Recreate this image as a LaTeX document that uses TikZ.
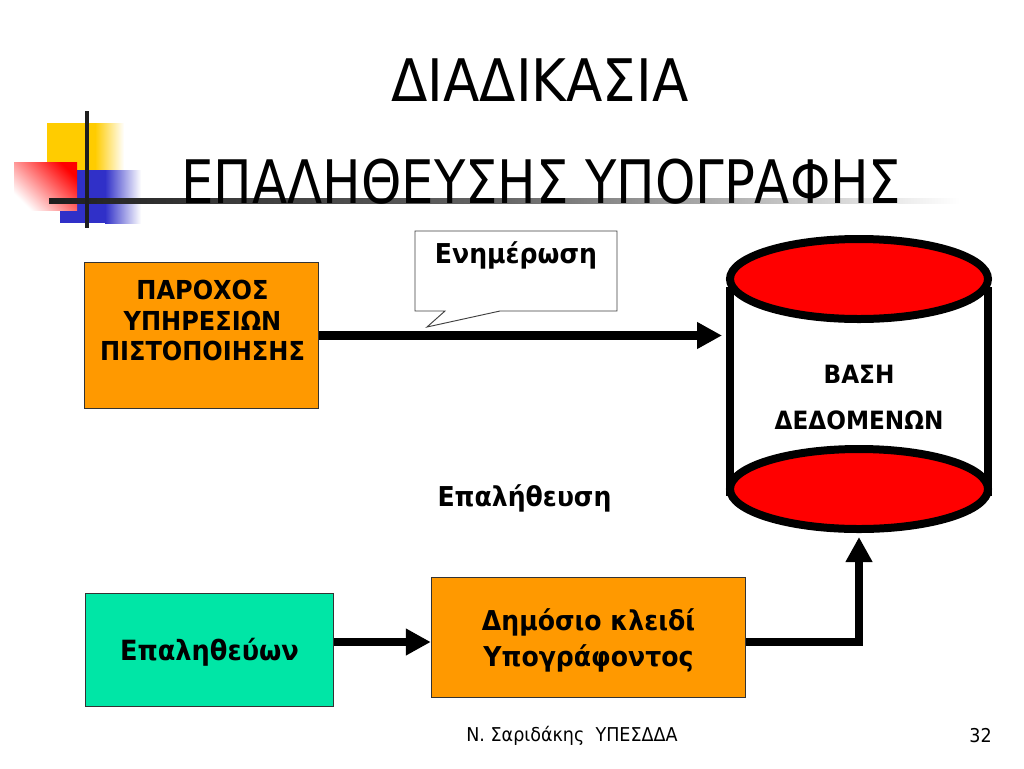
\documentclass[tikz,border=0pt]{standalone}
\usepackage{fontspec}
\setmainfont[FakeStretch=0.92]{DejaVu Sans}
\newfontfamily\titleone[FakeStretch=0.905]{DejaVu Sans}
\newfontfamily\titletwo[FakeStretch=0.855]{DejaVu Sans}
\usetikzlibrary{arrows.meta,shapes.geometric}
\definecolor{orangebox}{HTML}{FF9900}
\definecolor{greenbox}{HTML}{00E6A6}
\definecolor{barblack}{HTML}{1E1E1E}
\definecolor{ornyellow}{HTML}{FFCC00}
\definecolor{ornblue}{HTML}{3030C8}
\tikzset{
  x=0.75pt,y=-0.75pt,
  flowbox/.style={draw=black!80,line width=0.6pt,inner sep=0pt},
  heavy/.style={line width=6.6pt,-{Triangle[length=18.75pt,width=19pt]}},
  capdisc/.style={ellipse,draw=black,fill=red,line width=6pt,minimum width=193.5pt,minimum height=60pt,inner sep=0pt},
  titlea/.style={font=\titleone\fontsize{44}{48}\selectfont,inner sep=0pt},
  titleb/.style={font=\titletwo\fontsize{45}{48}\selectfont,inner sep=0pt},
  foot/.style={font=\fontsize{14.3}{16}\selectfont,inner sep=0pt},
  boldlabel/.style={font=\bfseries\fontsize{20.5}{27}\selectfont,inner sep=0pt,align=center},
  provlabel/.style={font=\bfseries\fontsize{19.6}{23}\selectfont,inner sep=0pt,align=center},
  dblabel/.style={font=\bfseries\fontsize{18.9}{20}\selectfont,inner sep=0pt}
}
\begin{document}
\begin{tikzpicture}
\useasboundingbox[fill=white] (0,0) rectangle (1024,768);
% bullet ornament
\fill[ornyellow] (47,123) rectangle (95,170);
\shade[left color=ornyellow,right color=white] (95,123) rectangle (124,170);
\fill[ornblue] (60,170) rectangle (105,223);
\shade[left color=ornblue,right color=white] (105,170) rectangle (141,223);
\shade[shading=axis,top color=red,bottom color=white,shading angle=-45] (14,162) rectangle (77,210);
\shade[left color=barblack,right color=white,middle color=black!60] (49,198.5) rectangle (960,203.5);
\fill[barblack] (85,111) rectangle (89,228);
% title
\node[titlea] (t1) at (540,80) {ΔΙΑΔΙΚΑΣΙΑ};
\node[titleb] (t2) at (541.5,182) {ΕΠΑΛΗΘΕΥΣΗΣ ΥΠΟΓΡΑΦΗΣ};
% callout
\draw[black!75,line width=0.7pt,fill=white] (415,231) -- (617,231) -- (617,311) -- (500,311) -- (427,327) -- (445,311) -- (415,311) -- cycle;
\node[boldlabel] (upd) at (516,255.5) {Ενημέρωση};
% boxes
\node[flowbox,fill=orangebox,minimum width=175.5pt,minimum height=109pt] (prov) at (201.5,335.5) {};
\node[provlabel] (provt) at (202.5,320.5) {ΠΑΡΟΧΟΣ\\ ΥΠΗΡΕΣΙΩΝ\\ ΠΙΣΤΟΠΟΙΗΣΗΣ};
\node[flowbox,fill=greenbox,minimum width=186.5pt,minimum height=84.5pt] (ver) at (209.5,650) {};
\node[boldlabel,font=\bfseries\fontsize{20.9}{27}\selectfont] (vert) at (209.5,652) {Επαληθεύων};
\node[flowbox,fill=orangebox,minimum width=236pt,minimum height=90.5pt] (key) at (588.5,637.5) {};
\node[boldlabel] (keyt) at (588.5,640) {Δημόσιο κλειδί\\ Υπογράφοντος};
% database
\coordinate (dbin) at (722,335.5);
\coordinate (sideTL) at (730,287);
\coordinate (sideBL) at (730,496);
\coordinate (sideTR) at (988,287);
\coordinate (sideBR) at (988,496);
\draw[line width=6pt] (sideTL) -- (sideBL);
\draw[line width=6pt] (sideTR) -- (sideBR);
\node[capdisc] (dbtop) at (859,279) {};
\node[capdisc] (dbbot) at (859,489) {};
\node[dblabel] (db1) at (859,374) {ΒΑΣΗ};
\node[dblabel] (db2) at (859,420) {ΔΕΔΟΜΕΝΩΝ};
\node[boldlabel] (chk) at (524.5,498) {Επαλήθευση};
% connectors
\coordinate (up) at (859,537);
\draw[heavy] (prov.east) -- (dbin);
\draw[heavy] (key.east |- 0,642) coordinate (keyout) (ver.east |- keyout) -- (key.west |- keyout);
\draw[heavy] (keyout) -| (up);
% footer
\node[foot] (f1) at (572,735.5) {Ν. Σαριδάκης\ \ ΥΠΕΣΔΔΑ};
\node[foot] (f2) at (980.5,735.5) {32};
\end{tikzpicture}
\end{document}
